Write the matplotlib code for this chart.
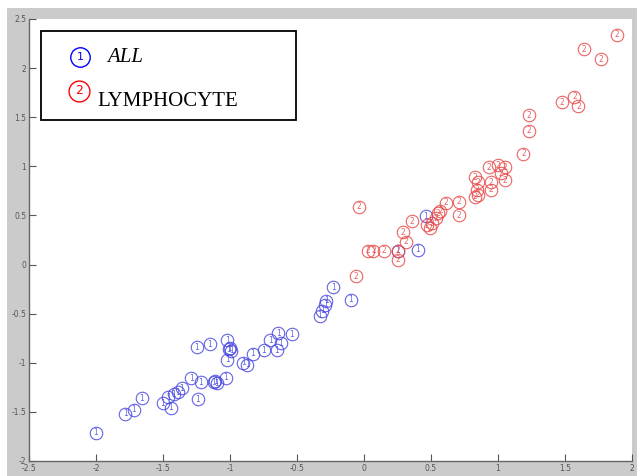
import matplotlib
matplotlib.use("Agg")
import matplotlib.pyplot as plt
from matplotlib.patches import Rectangle

plt.rcParams['axes.unicode_minus'] = False

# Class 1 (ALL) points
all_x = [-2.00, -1.78, -1.72, -1.66, -1.50, -1.46, -1.44, -1.42, -1.39, -1.36,
         -1.29, -1.22, -1.24, -1.25, -1.15, -1.12, -1.10, -1.11, -1.03, -1.02,
         -1.01, -0.99, -1.00, -1.02, -0.90, -0.87, -0.83, -0.75, -0.70, -0.65,
         -0.64, -0.62, -0.54, -0.33, -0.31, -0.29, -0.28, -0.23, -0.10, 0.25,
         0.40, 0.46]
all_y = [-1.71, -1.52, -1.48, -1.36, -1.41, -1.35, -1.46, -1.32, -1.30, -1.26,
         -1.16, -1.20, -1.37, -0.84, -0.81, -1.20, -1.21, -1.19, -1.15, -0.77,
         -0.86, -0.88, -0.85, -0.97, -1.00, -1.02, -0.91, -0.87, -0.77, -0.87,
         -0.70, -0.80, -0.71, -0.52, -0.47, -0.41, -0.37, -0.23, -0.36, 0.14,
         0.15, 0.49]

# Class 2 (LYMPHOCYTE) points
lym_x = [-0.06, -0.04, 0.03, 0.07, 0.15, 0.25, 0.25, 0.31, 0.29, 0.36,
         0.49, 0.51, 0.54, 0.55, 0.57, 0.61, 0.71, 0.71, 0.83, 0.85,
         0.84, 0.85, 0.83, 0.93, 0.95, 0.95, 1.00, 1.02, 1.05, 1.05,
         1.19, 1.23, 1.23, 1.48, 1.57, 1.60, 1.64, 1.77, 1.89, 0.47]
lym_y = [-0.12, 0.59, 0.14, 0.14, 0.14, 0.14, 0.05, 0.23, 0.33, 0.44,
         0.37, 0.42, 0.47, 0.52, 0.55, 0.63, 0.64, 0.50, 0.89, 0.84,
         0.76, 0.71, 0.69, 0.99, 0.84, 0.76, 1.01, 0.93, 0.99, 0.86,
         1.13, 1.36, 1.52, 1.65, 1.71, 1.61, 2.19, 2.09, 2.34, 0.40]

xticks = [-2.5, -2, -1.5, -1, -0.5, 0, 0.5, 1, 1.5, 2]
yticks = [-2, -1.5, -1, -0.5, 0, 0.5, 1, 1.5, 2, 2.5]
xticklabels = ['-2.5', '-2', '-1.5', '-1', '-0.5', '0', '0.5', '1', '1.5', '2']
yticklabels = ['-2', '-1.5', '-1', '-0.5', '0', '0.5', '1', '1.5', '2', '2.5']
legend_labels = ['ALL', 'LYMPHOCYTE']

W, H = 637, 476
fig = plt.figure(figsize=(W / 100, H / 100), dpi=100, facecolor='#cbcbcb')
# white strips at top and left edge of the screenshot
fig.patches.append(Rectangle((0, (H - 8) / H), 1, 8 / H, transform=fig.transFigure,
                             facecolor='white', edgecolor='none', zorder=-5))
fig.patches.append(Rectangle((0, 0), 7 / W, 1, transform=fig.transFigure,
                             facecolor='white', edgecolor='none', zorder=-5))

ax = fig.add_axes([29 / W, 1 - 461 / H, (632 - 29) / W, (461 - 19) / H])
ax.set_facecolor('white')

blue = '#4848e0'
red = '#e84848'

ax.plot(all_x, all_y, 'o', mfc='none', mec=blue, ms=9, mew=0.8, alpha=0.85)
for x, y in zip(all_x, all_y):
    ax.text(x, y, '1', fontsize=5.5, color=blue, ha='center', va='center', alpha=0.85)
ax.plot(lym_x, lym_y, 'o', mfc='none', mec=red, ms=9, mew=0.8, alpha=0.85)
for x, y in zip(lym_x, lym_y):
    ax.text(x, y, '2', fontsize=5.5, color=red, ha='center', va='center', alpha=0.85)

ax.set_xlim(-2.5, 2)
ax.set_ylim(-2, 2.5)
ax.set_xticks(xticks)
ax.set_xticklabels(xticklabels)
ax.set_yticks(yticks)
ax.set_yticklabels(yticklabels)
ax.tick_params(direction='in', length=5, width=0.8, labelsize=5.5,
               colors='#555555', pad=2, top=False, right=False)
for s in ['left', 'bottom']:
    ax.spines[s].set_color('#666666')
    ax.spines[s].set_linewidth(1.0)
for s in ['top', 'right']:
    ax.spines[s].set_visible(False)

# Legend box
ax.add_patch(Rectangle(((41 - 29) / (632 - 29), (461 - 120) / (461 - 19)),
                       (296 - 41) / (632 - 29), (120 - 31) / (461 - 19),
                       transform=ax.transAxes, facecolor='white',
                       edgecolor='black', lw=1.3, zorder=5))

def axfrac(px, py):
    return (px - 29) / (632 - 29), (461 - py) / (461 - 19)

bx, by = axfrac(80, 57)
ax.plot([bx], [by], 'o', mfc='none', mec='blue', ms=14, mew=1.0,
        transform=ax.transAxes, zorder=6, clip_on=False)
ax.text(bx, by, '1', fontsize=8, color='blue', ha='center', va='center',
        transform=ax.transAxes, zorder=6)
tx, ty = axfrac(107, 58)
ax.text(tx, ty, legend_labels[0], fontsize=15, family='Liberation Serif',
        style='italic', ha='left', va='center', transform=ax.transAxes, zorder=6)

rx, ry = axfrac(79, 91)
ax.plot([rx], [ry], 'o', mfc='none', mec='red', ms=15, mew=1.0,
        transform=ax.transAxes, zorder=6, clip_on=False)
ax.text(rx, ry, '2', fontsize=9, color='red', ha='center', va='center',
        transform=ax.transAxes, zorder=6)
tx2, ty2 = axfrac(97, 101)
ax.text(tx2, ty2, legend_labels[1], fontsize=15, family='Liberation Serif',
        ha='left', va='center', transform=ax.transAxes, zorder=6)

fig.savefig('out.png', dpi=100, facecolor=fig.get_facecolor())
